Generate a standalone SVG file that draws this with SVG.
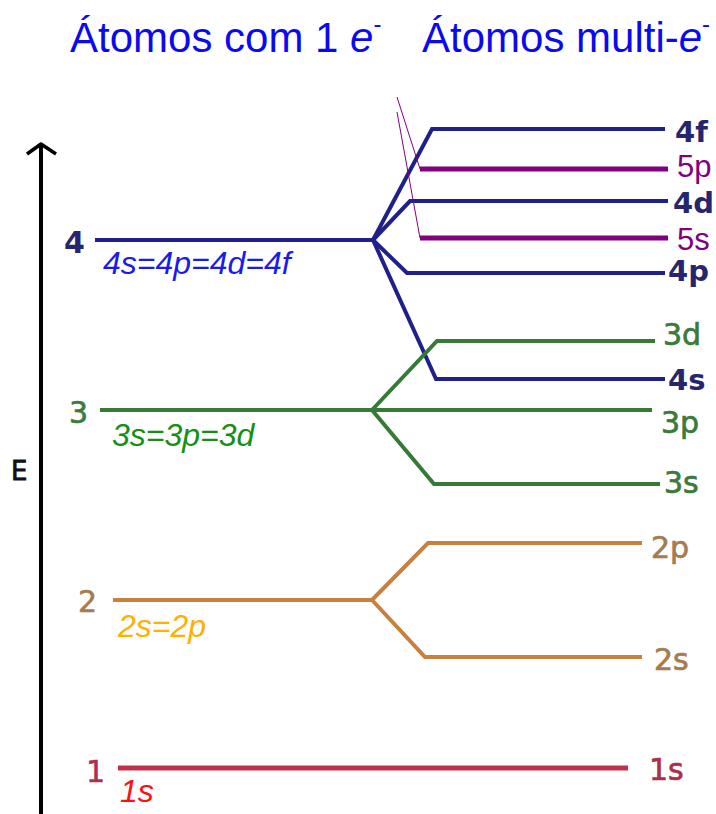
<svg xmlns="http://www.w3.org/2000/svg" width="716" height="814" viewBox="0 0 716 814">
<style>
.title{font-family:"Liberation Sans",Arial,sans-serif;font-size:42px;fill:#0a0af0}
.it{font-family:"Liberation Sans",Arial,sans-serif;font-style:italic;font-size:32px}
.lvl{font-family:"DejaVu Sans",sans-serif;font-size:30px}
.rb{font-family:"DejaVu Sans",sans-serif;font-weight:bold;font-size:29px;fill:#26266e}
.rr{font-family:"DejaVu Sans",sans-serif;font-size:30px;stroke-width:0.7}
.pur{font-family:"Liberation Sans",Arial,sans-serif;font-size:31px;fill:#800080}
.navy{stroke:#20208a;stroke-width:4;fill:none}
.green{stroke:#357a35;stroke-width:4;fill:none}
.orange{stroke:#c8803e;stroke-width:4;fill:none}
.crim{stroke:#c0304a;stroke-width:5;fill:none}
.purple{stroke:#800080;stroke-width:5;fill:none}
.thin{stroke:#800080;stroke-width:1;fill:none}
</style>
<rect width="716" height="814" fill="#ffffff"/>
<g id="titles">
<text class="title" x="70" y="52">Átomos com 1 <tspan font-style="italic">e</tspan><tspan font-size="24" dy="-20">-</tspan></text>
<text class="title" x="422" y="52">Átomos multi-<tspan font-style="italic">e</tspan><tspan font-size="24" dy="-20">-</tspan></text>
</g>
<g id="axis">
<line x1="41" y1="144" x2="41" y2="814" stroke="#000" stroke-width="4"/>
<polyline points="27,154 41,144 56,154" stroke="#000" stroke-width="3.5" fill="none" stroke-linejoin="round"/>
<text x="11" y="480" font-family="DejaVu Sans,sans-serif" font-size="26" fill="#111" stroke="#111" stroke-width="0.8">E</text>
</g>
<g id="level4">
<line class="navy" x1="95" y1="240" x2="373" y2="240"/>
<text class="lvl" x="64" y="253" font-weight="bold" fill="#26266e">4</text>
<text class="it" x="103" y="274" fill="#1a1af0">4s=4p=4d=4f</text>
</g>
<g id="level3">
<line class="green" x1="100" y1="410" x2="372" y2="410"/>
<text class="lvl" x="69" y="423" fill="#3a7a3a" stroke="#3a7a3a" stroke-width="0.6">3</text>
<text class="it" x="112" y="446" fill="#159015">3s=3p=3d</text>
</g>
<g id="level2">
<line class="orange" x1="113" y1="600" x2="372" y2="600"/>
<text class="lvl" x="78" y="612" fill="#a77a50" stroke="#a77a50" stroke-width="0.6">2</text>
<text class="it" x="118" y="637" fill="#ffb000">2s=2p</text>
</g>
<g id="level1">
<line class="crim" x1="118" y1="768" x2="628" y2="768"/>
<text class="lvl" x="86" y="782" fill="#b03050" stroke="#b03050" stroke-width="0.6">1</text>
<text class="it" x="120" y="802" fill="#ff1010" font-size="30">1s</text>
</g>
<g id="connectors">
<polyline class="navy" points="373,240 432,129 665,129"/>
<polyline class="navy" points="373,240 410,201 668,201"/>
<polyline class="navy" points="373,240 407,273 665,273"/>
<polyline class="navy" points="373,240 436,379 665,379"/>
<line class="purple" x1="420" y1="169" x2="668" y2="169"/>
<line class="purple" x1="420" y1="238" x2="668" y2="238"/>
<line class="thin" x1="397" y1="97" x2="420" y2="169"/>
<line class="thin" x1="397" y1="112" x2="420" y2="238"/>
<polyline class="green" points="372,410 437,341 655,341"/>
<line class="green" x1="372" y1="410" x2="652" y2="410"/>
<polyline class="green" points="372,410 434,484 660,484"/>
<polyline class="orange" points="372,600 428,543 642,543"/>
<polyline class="orange" points="372,600 425,657 642,657"/>
</g>
<g id="labels-right">
<text class="rb" x="675" y="142" font-size="29">4f</text>
<text class="pur" x="677" y="177">5p</text>
<text class="rb" x="673" y="213">4d</text>
<text class="pur" x="677" y="250">5s</text>
<text class="rb" x="668" y="281">4p</text>
<text class="rr" x="663" y="345" fill="#3a7a3a" stroke="#3a7a3a">3d</text>
<text class="rb" x="668" y="390">4s</text>
<text class="rr" x="661" y="433" fill="#3a7a3a" stroke="#3a7a3a">3p</text>
<text class="rr" x="664" y="493" fill="#3a7a3a" stroke="#3a7a3a">3s</text>
<text class="rr" x="651" y="558" fill="#a77a50" stroke="#a77a50">2p</text>
<text class="rr" x="654" y="670" fill="#a77a50" stroke="#a77a50">2s</text>
<text class="rr" x="649" y="780" fill="#a8304c" stroke="#a8304c">1s</text>
</g>
</svg>
